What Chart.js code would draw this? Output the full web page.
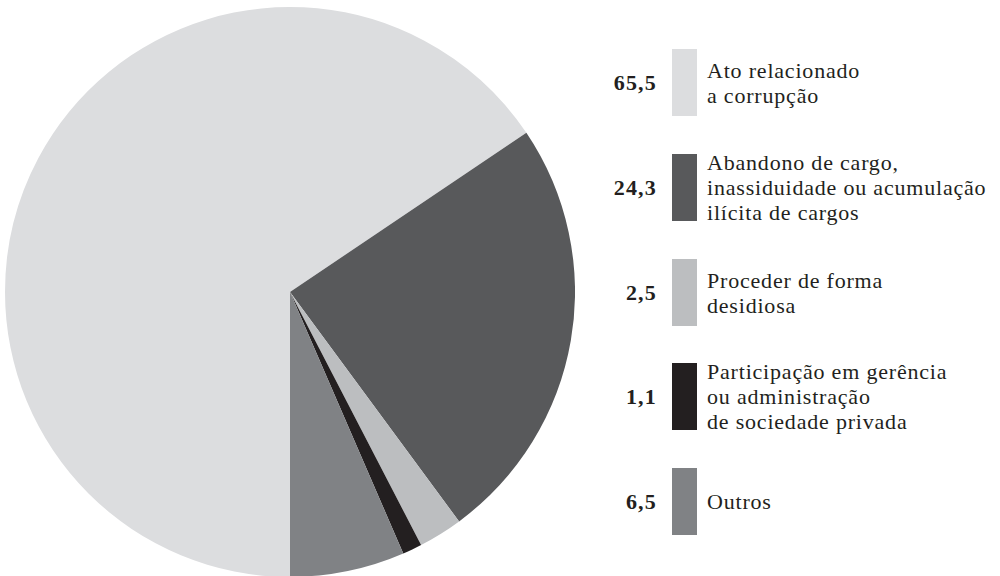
<!DOCTYPE html>
<html>
<head>
<meta charset="utf-8">
<script src="https://cdn.jsdelivr.net/npm/chart.js@4.4.1/dist/chart.umd.min.js"></script>
<style>
  body { margin: 0; background: #fff; width: 1000px; height: 576px; overflow: hidden; position: relative; font-family: "Liberation Serif", "DejaVu Serif", serif; color: #231f20; }
  #pieBox { position: absolute; left: 5px; top: 7px; width: 570px; height: 570px; }
  #legend { position: absolute; left: 600px; top: 0; width: 400px; height: 576px; }
  .item { position: absolute; left: 0; height: 67px; width: 400px; }
  .val { position: absolute; right: 343px; top: 0; height: 67px; line-height: 67px; font-weight: bold; font-size: 22px; letter-spacing: 1.2px; }
  .sw { position: absolute; left: 72px; top: 0; width: 25px; height: 67px; }
  .txt { position: absolute; left: 107px; top: 0; height: 67px; display: flex; align-items: center; font-size: 22px; line-height: 25px; letter-spacing: 0.8px; white-space: nowrap; }
</style>
</head>
<body>
<div id="pieBox"><canvas id="pie"></canvas></div>
<div id="legend"></div>
<script>
const categories = [
  ['Ato relacionado', 'a corrupção'],
  ['Abandono de cargo,', 'inassiduidade ou acumulação', 'ilícita de cargos'],
  ['Proceder de forma', 'desidiosa'],
  ['Participação em gerência', 'ou administração', 'de sociedade privada'],
  ['Outros']
];
const values = [65.5, 24.3, 2.5, 1.1, 6.5];
const valueLabels = ['65,5', '24,3', '2,5', '1,1', '6,5'];
const colors = ['#dcdddf', '#58595b', '#bcbec0', '#231f20', '#808285'];
const legendTops = [49, 154, 259, 363, 468];

// legenda manual
const legend = document.getElementById('legend');
categories.forEach((lines, i) => {
  const item = document.createElement('div');
  item.className = 'item';
  item.style.top = legendTops[i] + 'px';
  item.innerHTML = '<div class="val">' + valueLabels[i] + '</div>' +
    '<div class="sw" style="background:' + colors[i] + '"></div>' +
    '<div class="txt"><div>' + lines.join('<br>') + '</div></div>';
  legend.appendChild(item);
});

const ctx = document.getElementById('pie');
new Chart(ctx, {
  type: 'pie',
  data: {
    labels: categories.map(l => l.join(' ')),
    datasets: [{
      data: values,
      backgroundColor: colors,
      borderWidth: 0
    }]
  },
  options: {
    responsive: true,
    maintainAspectRatio: false,
    animation: false,
    rotation: 180,
    layout: { padding: 0 },
    plugins: {
      legend: { display: false },
      tooltip: { enabled: false }
    }
  }
});
</script>
</body>
</html>
